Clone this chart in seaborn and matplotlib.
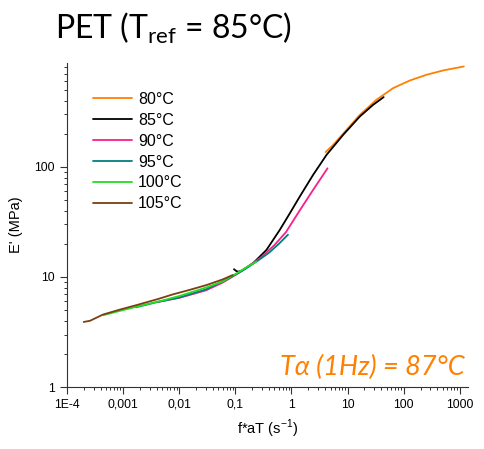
import pandas as pd
import numpy as np
import matplotlib
matplotlib.use("Agg")
import matplotlib.pyplot as plt
import seaborn as sns

# curves (f*aT in 1/s, E' in MPa)
x_80 = [4.06, 5.54, 8.35, 16.6, 32.8, 65, 129, 255, 505, 1180]
y_80 = [136, 158, 200, 297, 407, 519, 609, 686, 751, 816]

x_85 = [0.095, 0.105, 0.113, 0.13, 0.16, 0.21, 0.36, 0.62, 0.94, 1.41, 2.44, 4.23, 8.35, 16.6, 28.6, 44]
y_85 = [11.75, 11.3, 11.15, 11.4, 12.2, 13.4, 17.6, 26.7, 37.9, 53.7, 84.6, 128.5, 195, 287, 366, 430]

x_90 = [0.004, 0.01, 0.03, 0.06, 0.12, 0.2, 0.3, 0.5, 0.8, 1.4, 2.4, 4.4]
y_90 = [5.9, 6.45, 7.55, 8.9, 11.0, 13.2, 15.3, 19.5, 25.5, 40, 61, 97]

x_95 = [0.0017, 0.004, 0.01, 0.03, 0.08, 0.15, 0.25, 0.4, 0.6, 0.87]
y_95 = [5.3, 5.9, 6.5, 7.7, 9.8, 11.8, 14.0, 16.6, 20.0, 24.2]

x_100 = [0.00045, 0.001, 0.002, 0.005, 0.01, 0.03, 0.06, 0.12, 0.18, 0.24]
y_100 = [4.5, 5.0, 5.45, 6.1, 6.7, 8.0, 9.1, 11.2, 12.7, 13.8]

x_105 = [0.0002, 0.00026, 0.00044, 0.00088, 0.00175, 0.0042, 0.0078, 0.015, 0.031, 0.06, 0.09]
y_105 = [3.9, 4.0, 4.55, 5.05, 5.55, 6.3, 6.95, 7.6, 8.45, 9.5, 10.4]

temps = ["80°C", "85°C", "90°C", "95°C", "100°C", "105°C"]
colors = ["#FF8000", "#000000", "#F5208C", "#008080", "#22DD22", "#7B3F10"]

xs = [x_80, x_85, x_90, x_95, x_100, x_105]
ys = [y_80, y_85, y_90, y_95, y_100, y_105]

frames = []
for t, xv, yv in zip(temps, xs, ys):
    frames.append(pd.DataFrame({"f": xv, "E": yv, "T": t}))
df = pd.concat(frames, ignore_index=True)

sns.set_style("ticks")
plt.rcParams["font.family"] = ["Liberation Sans", "DejaVu Sans"]
plt.rcParams["text.color"] = "black"
plt.rcParams["axes.labelcolor"] = "black"
plt.rcParams["xtick.color"] = "#333333"
plt.rcParams["ytick.color"] = "#333333"
plt.rcParams["xtick.labelcolor"] = "black"
plt.rcParams["ytick.labelcolor"] = "black"

fig = plt.figure(figsize=(4.84, 4.49), dpi=100)
ax = fig.add_axes([0.138, 0.138, 0.829, 0.722])

sns.lineplot(data=df, x="f", y="E", hue="T", hue_order=temps,
             palette=dict(zip(temps, colors)), estimator=None, sort=False,
             linewidth=1.3, ax=ax)

ax.set_xscale("log")
ax.set_yscale("log")
ax.set_xlim(1e-4, 1400)
ax.set_ylim(1, 880)

ax.set_xticks([1e-4, 1e-3, 1e-2, 1e-1, 1, 10, 100, 1000])
ax.set_xticklabels(["1E-4", "0,001", "0,01", "0,1", "1", "10", "100", "1000"])
ax.set_yticks([1, 10, 100])
ax.set_yticklabels(["1", "10", "100"])
ax.tick_params(which="major", length=5, width=0.8, labelsize=8.8)
ax.tick_params(which="minor", length=2.5, width=0.7)
for s in ["top", "right"]:
    ax.spines[s].set_visible(False)
for s in ["left", "bottom"]:
    ax.spines[s].set_color("#333333")

ax.set_xlabel("f*aT (s$^\\mathregular{-1}$)", fontsize=10.5, labelpad=5)
ax.set_ylabel("E' (MPa)", fontsize=10.5, labelpad=8)

leg = ax.legend(loc="upper left", bbox_to_anchor=(0.03, 0.955), frameon=False,
                fontsize=11.5, handlelength=2.4, handletextpad=0.4, labelspacing=0.37)

ax.text(0.993, 0.037, "Tα (1Hz) = 87°C", transform=ax.transAxes, ha="right", va="baseline",
        color="#FF8000", fontsize=19.5, style="italic", family=["Lato", "DejaVu Sans"])

fig.text(0.113, 0.915, "PET (T$_\\mathregular{ref}$ = 85°C)", fontsize=23,
         family=["Lato", "DejaVu Sans"], va="baseline")

fig.savefig("out.png", dpi=100)
